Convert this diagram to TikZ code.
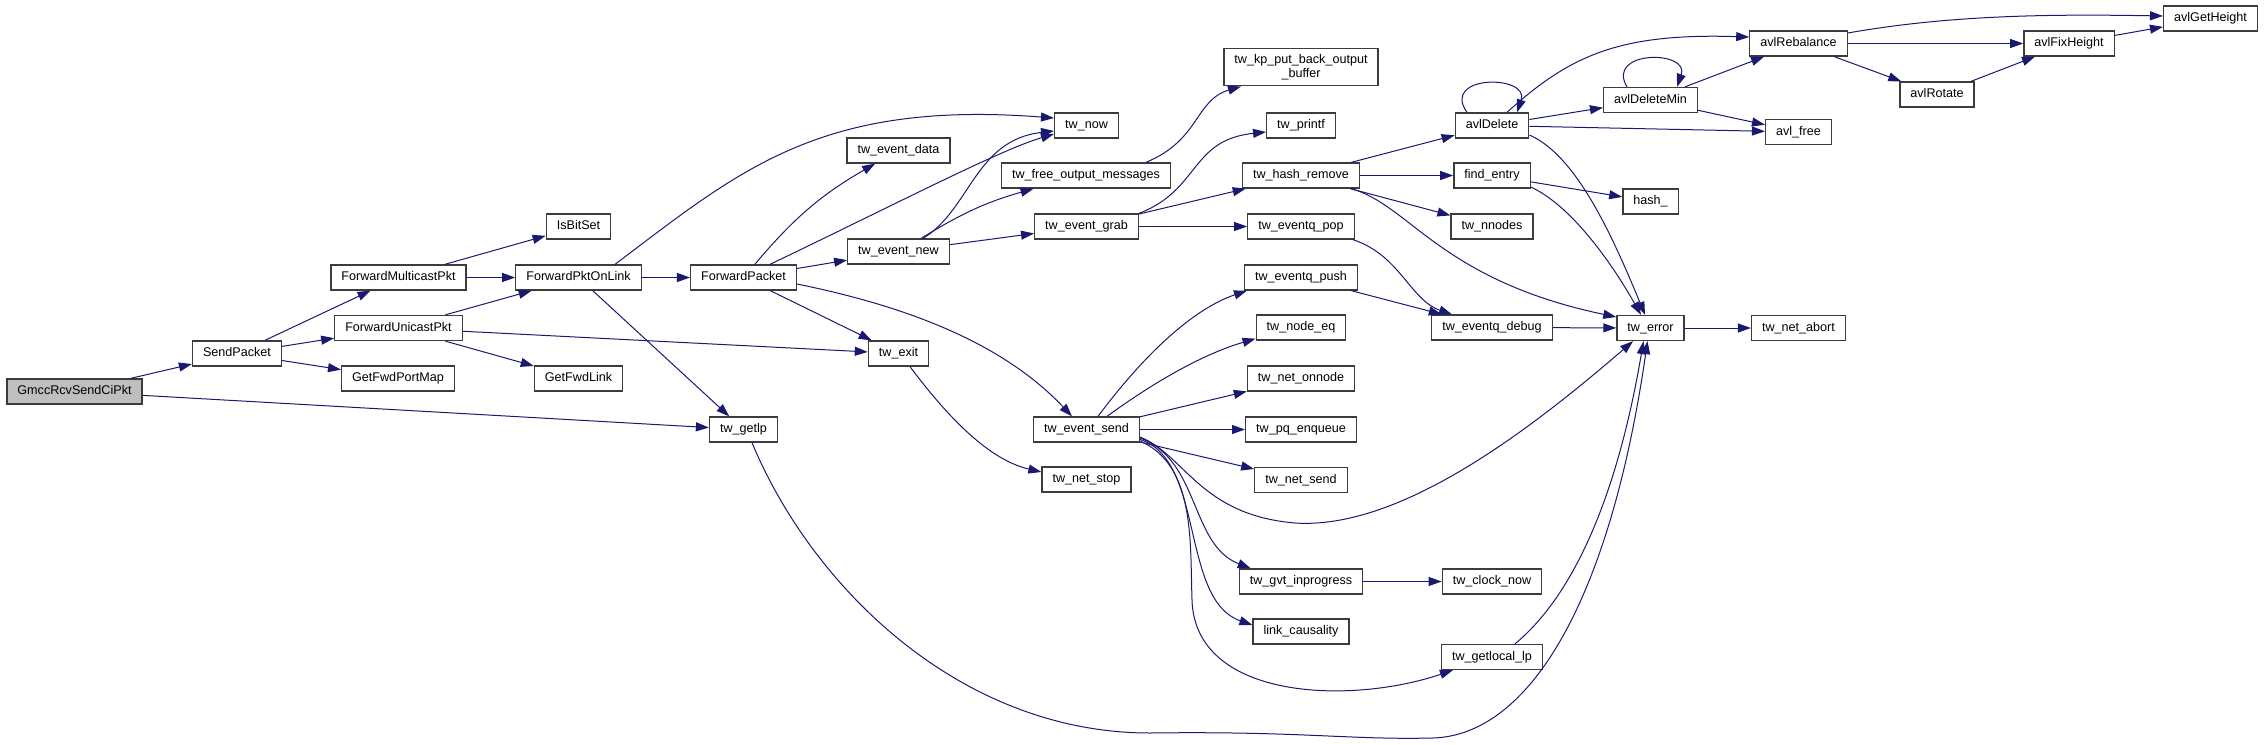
\documentclass[tikz,border=0pt]{standalone}
\usepackage{fontspec}
\setmainfont{Liberation Sans}
\usetikzlibrary{arrows.meta}
\definecolor{callblue}{RGB}{25,25,112}
\definecolor{rootgray}{RGB}{191,191,191}
\definecolor{boxgray}{RGB}{60,60,60}
\tikzset{
  fnbase/.style={rectangle, draw=boxgray, line width=1.3pt, fill=white,
    minimum height=25pt, inner xsep=10.5pt, inner ysep=5pt,
    font=\fontsize{12.6}{14}\selectfont},
  fnbox/.style={fnbase, text height=9.3pt, text depth=2.7pt},
  rootbox/.style={fnbox, fill=rootgray},
  callarrow/.style={-{Triangle[length=13pt,width=9pt]}, callblue, line width=1pt}
}

\begin{document}
\begin{tikzpicture}[x=1pt, y=-1pt]
  \useasboundingbox (0,0) rectangle (2264,744);
  \node[rootbox] (gmcc) at (74.5,391.5) {GmccRcvSendCiPkt};
  \node[fnbox] (sendpkt) at (237,353.5) {SendPacket};
  \node[fnbox] (fwdmulti) at (398.5,277.5) {ForwardMulticastPkt};
  \node[fnbox] (fwduni) at (398.5,328) {ForwardUnicastPkt};
  \node[fnbox] (portmap) at (398,378.5) {GetFwdPortMap};
  \node[fnbox] (isbitset) at (578.5,226.5) {IsBitSet};
  \node[fnbox] (pktlink) at (578.5,277.5) {ForwardPktOnLink};
  \node[fnbox] (getlink) at (578.5,378.5) {GetFwdLink};
  \node[fnbox] (fwdpkt) at (743.5,277.5) {ForwardPacket};
  \node[fnbox] (getlp) at (743.5,429.5) {tw\_getlp};
  \node[fnbox] (evdata) at (898.5,150.5) {tw\_event\_data};
  \node[fnbox] (evnew) at (898.5,251.5) {tw\_event\_new};
  \node[fnbox] (twexit) at (898.5,353.5) {tw\_exit};
  \node[fnbox] (twnow) at (1086.5,125.5) {tw\_now};
  \node[fnbox] (freeout) at (1086,175.5) {tw\_free\_output\_messages};
  \node[fnbox] (evgrab) at (1086.5,226.5) {tw\_event\_grab};
  \node[fnbox] (evsend) at (1086.5,429.5) {tw\_event\_send};
  \node[fnbox] (netstop) at (1086.5,479.5) {tw\_net\_stop};
  \node[fnbase, align=center, inner ysep=6pt] (kpbuf) at (1301,67)
    {tw\_kp\_put\_back\_output\\\_buffer};
  \node[fnbox] (twprintf) at (1301,125.5) {tw\_printf};
  \node[fnbox] (hashrm) at (1301,175.5) {tw\_hash\_remove};
  \node[fnbox] (qpop) at (1301,226.5) {tw\_eventq\_pop};
  \node[fnbox] (qpush) at (1301,277.5) {tw\_eventq\_push};
  \node[fnbox] (nodeeq) at (1301,327.5) {tw\_node\_eq};
  \node[fnbox] (onnode) at (1301,378.5) {tw\_net\_onnode};
  \node[fnbox] (pqenq) at (1301,429.5) {tw\_pq\_enqueue};
  \node[fnbox] (netsend) at (1301,480) {tw\_net\_send};
  \node[fnbox] (gvtprog) at (1301,581.5) {tw\_gvt\_inprogress};
  \node[fnbox] (causal) at (1301,631.5) {link\_causality};
  \node[fnbox] (avldel) at (1492,125.5) {avlDelete};
  \node[fnbox] (findent) at (1492,175.5) {find\_entry};
  \node[fnbox] (nnodes) at (1492,226.5) {tw\_nnodes};
  \node[fnbox] (qdebug) at (1492,327.5) {tw\_eventq\_debug};
  \node[fnbox] (clocknow) at (1492,581.5) {tw\_clock\_now};
  \node[fnbox] (getlocal) at (1492,657) {tw\_getlocal\_lp};
  \node[fnbox] (delmin) at (1650.5,100) {avlDeleteMin};
  \node[fnbox] (hashfn) at (1650.5,201.5) {hash\_};
  \node[fnbox] (twerror) at (1650.5,328) {tw\_error};
  \node[fnbox] (rebal) at (1798.5,43.5) {avlRebalance};
  \node[fnbox] (avlfree) at (1798.5,132) {avl\_free};
  \node[fnbox] (netabort) at (1798.5,328) {tw\_net\_abort};
  \node[fnbox] (rotate) at (1937,94.5) {avlRotate};
  \node[fnbox] (fixh) at (2069,43.5) {avlFixHeight};
  \node[fnbox] (geth) at (2210.5,18.5) {avlGetHeight};

  \draw[callarrow] (gmcc) -- (sendpkt);
  \draw[callarrow] (gmcc) -- (getlp);
  \draw[callarrow] (sendpkt) -- (fwdmulti);
  \draw[callarrow] (sendpkt) -- (fwduni);
  \draw[callarrow] (sendpkt) -- (portmap);
  \draw[callarrow] (fwdmulti) -- (isbitset);
  \draw[callarrow] (fwdmulti) -- (pktlink);
  \draw[callarrow] (fwduni) -- (pktlink);
  \draw[callarrow] (fwduni) -- (getlink);
  \draw[callarrow] (fwduni) -- (twexit);
  \draw[callarrow] (pktlink) -- (fwdpkt);
  \draw[callarrow] ([xshift=36.5pt]pktlink.north) .. controls (740,170) and (820,100) .. ([yshift=7.5pt]twnow.west);
  \draw[callarrow] (pktlink) -- (getlp);
  \draw[callarrow] (fwdpkt) to[bend left=10] (evdata);
  \draw[callarrow] ([xshift=26.5pt]fwdpkt.north) .. controls (900,202) and (1000,150) .. ([yshift=-8.5pt]twnow.west);
  \draw[callarrow] (fwdpkt) -- (evnew);
  \draw[callarrow] (fwdpkt) -- (twexit);
  \draw[callarrow] ([yshift=-6.5pt]fwdpkt.east) .. controls (900,305) and (1000,340) .. ([xshift=-14.5pt]evsend.north);
  \draw[callarrow] ([xshift=24.5pt]evnew.north) .. controls (970,210) and (975,140) .. ([yshift=-5.5pt]twnow.west);
  \draw[callarrow] (evnew) to[bend left=8] (freeout);
  \draw[callarrow] (evnew) -- (evgrab);
  \draw[callarrow] ([xshift=60pt]freeout.north) .. controls (1200,140) and (1195,100) .. ([xshift=-60pt]kpbuf.south);
  \draw[callarrow] (evgrab.north east) .. controls (1200,190) and (1190,140) .. ([yshift=-6.5pt]twprintf.west);
  \draw[callarrow] (evgrab) -- (hashrm);
  \draw[callarrow] (evgrab) -- (qpop);
  \draw[callarrow] ([xshift=11.5pt]twexit.south) .. controls (950,420) and (990,460) .. ([yshift=7.5pt]netstop.west);
  \draw[callarrow] ([xshift=8.5pt]getlp.south) .. controls (812,587) and (960,733) .. (1150,733)
    .. controls (1300,731) and (1350,740) .. (1433,738)
    .. controls (1530,735) and (1610,600) .. ([xshift=-3pt]twerror.south);
  \draw[callarrow] ([xshift=11.5pt]evsend.north) .. controls (1140,360) and (1190,310) .. ([xshift=3pt]qpush.south west);
  \draw[callarrow] ([xshift=20.5pt]evsend.north) .. controls (1150,385) and (1200,355) .. ([yshift=2pt]nodeeq.south west);
  \draw[callarrow] (evsend) -- (onnode);
  \draw[callarrow] (evsend) -- (pqenq);
  \draw[callarrow] (evsend) -- (netsend);
  \draw[callarrow] ([yshift=-7.5pt]evsend.east) .. controls (1185,455) and (1200,515) .. (1295,523)
    .. controls (1400,530) and (1530,430) .. ([xshift=-17.5pt]twerror.south);
  \draw[callarrow] ([yshift=-8.5pt]evsend.east) .. controls (1200,460) and (1190,545) .. ([xshift=12pt]gvtprog.north west);
  \draw[callarrow] ([yshift=-10pt]evsend.east) .. controls (1205,460) and (1180,600) .. ([yshift=6.5pt]causal.west);
  \draw[callarrow] ([yshift=-11.5pt]evsend.east) .. controls (1195,465) and (1190,540) .. (1192,600)
    .. controls (1195,700) and (1350,705) .. ([xshift=12pt]getlocal.south west);
  \draw[callarrow] (hashrm) -- (avldel);
  \draw[callarrow] (hashrm) -- (findent);
  \draw[callarrow] (hashrm) -- (nnodes);
  \draw[callarrow] ([xshift=-9pt]hashrm.south east) .. controls (1410,205) and (1440,280) .. ([yshift=11pt]twerror.west);
  \draw[callarrow] ([xshift=-2pt]qpop.south east) .. controls (1400,255) and (1410,300) .. ([xshift=-40pt]qdebug.north);
  \draw[callarrow] (qpush) -- (qdebug);
  \draw[callarrow] (qdebug) -- (twerror);
  \draw[callarrow] (gvtprog) -- (clocknow);
  \draw[callarrow] ([xshift=23pt]getlocal.north) .. controls (1580,590) and (1620,480) .. ([xshift=-7pt]twerror.south);
  \draw[callarrow] ([xshift=-25pt]avldel.north) .. controls +(-27,-38) and +(13,-38) .. ([xshift=25pt]avldel.north);
  \draw[callarrow] (avldel) -- (delmin);
  \draw[callarrow] (avldel) -- (avlfree);
  \draw[callarrow] ([yshift=-9.5pt]avldel.east) .. controls (1575,155) and (1610,230) .. ([xshift=-5.5pt]twerror.north);
  \draw[callarrow] ([xshift=15pt]avldel.north) .. controls (1570,55) and (1620,33) .. ([yshift=6.5pt]rebal.west);
  \draw[callarrow] (findent) -- (hashfn);
  \draw[callarrow] ([yshift=-11.5pt]findent.east) .. controls (1570,205) and (1610,260) .. ([xshift=-9.5pt]twerror.north);
  \draw[callarrow] ([xshift=-23.5pt]delmin.north) .. controls +(-22,-37) and +(13,-37) .. ([xshift=26.5pt]delmin.north);
  \draw[callarrow] (delmin) -- (rebal);
  \draw[callarrow] (delmin) -- (avlfree);
  \draw[callarrow] ([yshift=10.5pt]rebal.east) .. controls (1950,15) and (2050,14) .. ([yshift=2.5pt]geth.west);
  \draw[callarrow] (rebal) -- (fixh);
  \draw[callarrow] (rebal) -- (rotate);
  \draw[callarrow] (rotate) -- (fixh);
  \draw[callarrow] (fixh) -- (geth);
  \draw[callarrow] (twerror) -- (netabort);
\end{tikzpicture}
\end{document}
